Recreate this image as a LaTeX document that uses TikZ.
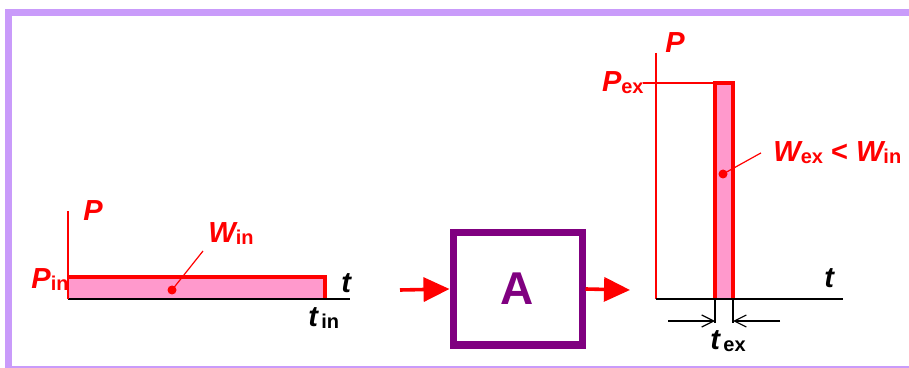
\documentclass[tikz,border=0pt]{standalone}
\usepackage{fontspec}
\setmainfont{Liberation Sans}
\usetikzlibrary{arrows.meta, positioning}
\definecolor{framec}{HTML}{C99BFA}
\definecolor{barc}{HTML}{FF99CC}
\definecolor{boxc}{HTML}{800080}
\newcommand{\varlbl}[2]{{\fontsize{14.5}{14.5}\selectfont\bfseries\itshape #1}%
  \raisebox{-0.8pt}{\fontsize{10}{10}\selectfont\bfseries #2}}

\begin{document}
\begin{tikzpicture}[
    x=0.5pt, y=-0.5pt,
    >=Stealth,
    axis/.style={red, line width=0.8pt},
    base/.style={black, line width=0.8pt},
    edge/.style={red, line width=2.2pt},
    lbl/.style={text=red, inner sep=0pt},
    flow/.style={-{Triangle[length=13pt,width=12pt]}, red, line width=1.8pt},
    dim/.style={-{Straight Barb[length=6pt,width=6pt]}, black, line width=0.6pt},
    dot/.style={circle, fill=red, inner sep=0pt, minimum size=4.5pt}
  ]
  \useasboundingbox (0,0) rectangle (909,368);

  % Frame
  \draw[framec, line width=3.5pt] (8.5,368) -- (8.5,13) -- (909,13);
  \draw[framec, line width=1pt] (8.5,367) -- (909,367);

  % Input pulse
  \fill[barc] (68,277) rectangle (325,299);
  \draw[edge] (68,277) -- (325,277) -- (325,299);
  \draw[base] (68,299) -- (350,299);
  \draw[axis] (68,211) -- (68,299);
  \node[lbl, anchor=base west] (pin) at (83,221) {\varlbl{P}{}};
  \node[lbl, anchor=base east] (pinl) at (69,289) {\varlbl{P}{in}};
  \node[lbl, text=black, anchor=base west] (tin) at (341,293) {\varlbl{t}{}};
  \node[lbl, text=black, anchor=base west] (tinl) at (308,327) {\varlbl{t}{\,in}};
  \node[lbl, anchor=base west] (win) at (208,243) {\varlbl{W}{in}};
  \node[dot] (dotin) at (172,290) {};
  \draw[red, line width=0.6pt] (dotin.center) -- ([xshift=-2.5pt,yshift=-3pt]win.south west);

  % Black box
  \node[draw=boxc, line width=3.5pt, minimum width=64.5pt, minimum height=56pt,
        text=boxc, font=\fontsize{23}{23}\selectfont\bfseries] (A) at (517.5,289) {A};
  \coordinate (in) at (400,290);
  \coordinate (out) at (630,290);
  \draw[flow] (in) -- (A.west);
  \draw[flow] (A.east) -- (out);

  % Output pulse
  \draw[axis] (656,53) -- (656,299);
  \coordinate (pext) at (643,83);
  \fill[barc] (715,83) rectangle (733,299);
  \draw[axis] (pext) -- (715,83);
  \draw[edge] (715,299) -- (715,83) -- (733,83) -- (733,299);
  \draw[base] (656,299) -- (843,299);
  \node[lbl, anchor=base west] (pout) at (665,53) {\varlbl{P}{}};
  \node[lbl, anchor=base east] (pexl) at (644,92) {\varlbl{P}{ex}};
  \node[lbl, text=black, anchor=base west] (tout) at (824,288) {\varlbl{t}{}};
  \node[lbl, anchor=base west] (wex) at (773,162)
    {\varlbl{W}{ex}\fontsize{14.5}{14.5}\selectfont\bfseries\ {<}\ \varlbl{W}{in}};
  \node[dot] (dotex) at (723,174) {};
  \draw[red, line width=0.6pt] (dotex.center) -- ([xshift=-6pt]wex.west);

  % Pulse width
  \coordinate (ta) at (715,299);
  \coordinate (tb) at (733,299);
  \coordinate (ta2) at (715,323);
  \coordinate (tb2) at (733,323);
  \draw[base] (ta) -- (ta2);
  \draw[base] (tb) -- (tb2);
  \coordinate (da) at (668,321);
  \coordinate (db) at (780,321);
  \draw[dim] (da) -- (ta |- da);
  \draw[dim] (db) -- (tb |- db);
  \node[lbl, text=black, anchor=base west] (texl) at (710,350) {\varlbl{t}{\,ex}};
\end{tikzpicture}
\end{document}
